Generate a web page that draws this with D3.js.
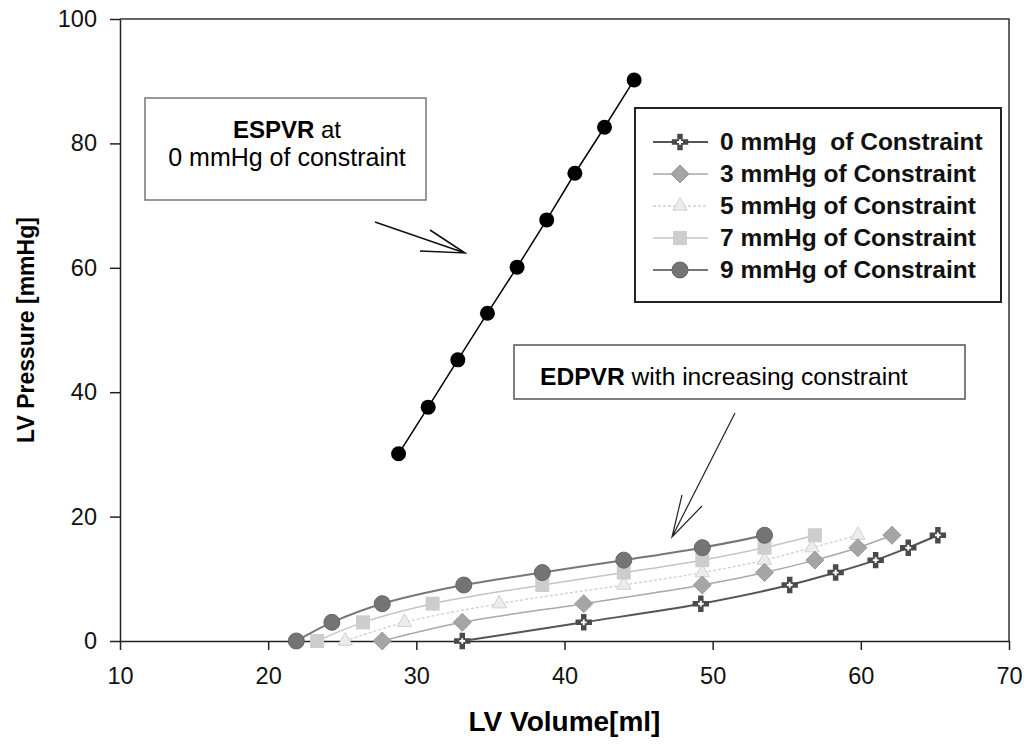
<!DOCTYPE html>
<html>
<head>
<meta charset="utf-8">
<script src="https://cdn.jsdelivr.net/npm/d3@7"></script>
<style>
  body { margin: 0; background: #fff; }
  text { font-family: 'Liberation Sans', Arial, sans-serif; white-space: pre; }
</style>
</head>
<body>
<div id="chart"></div>
<script>
// ESPVR at 0 mmHg of constraint
const espvrVolume = [28.8, 30.8, 32.8, 34.8, 36.8, 38.8, 40.7, 42.7, 44.7]
const espvrPressure = [30.1, 37.6, 45.2, 52.7, 60.1, 67.7, 75.2, 82.6, 90.2]

// EDPVR curves, one per constraint level
const constraintLabels = [
  '0 mmHg  of Constraint',
  '3 mmHg of Constraint',
  '5 mmHg of Constraint',
  '7 mmHg of Constraint',
  '9 mmHg of Constraint',
]
const edpvrPressure = [0, 3, 6, 9, 11, 13, 15, 17]
const volume0 = [33.1, 41.3, 49.2, 55.2, 58.3, 61.0, 63.2, 65.2]
const volume3 = [27.7, 33.1, 41.3, 49.3, 53.5, 56.9, 59.8, 62.1]
const volume5 = [25.2, 29.2, 35.6, 44.0, 49.3, 53.5, 56.7, 59.8]
const volume7 = [23.3, 26.4, 31.1, 38.5, 44.0, 49.3, 53.5, 56.9]
const volume9 = [21.9, 24.3, 27.7, 33.2, 38.5, 44.0, 49.3, 53.5]

const xTicks = [10, 20, 30, 40, 50, 60, 70]
const yTicks = [0, 20, 40, 60, 80, 100]

const width = 1030
const height = 751
const margin = { top: 19, right: 21, bottom: 110, left: 120 }

const svg = d3.select('#chart').append('svg')
  .attr('width', width)
  .attr('height', height)

const xScale = d3.scaleLinear().domain([10, 70]).range([margin.left, width - margin.right])
const yScale = d3.scaleLinear().domain([0, 100]).range([height - margin.bottom, margin.top])

// styles per series
const series = [
  { label: constraintLabels[0], vol: volume0, line: '#555', lw: 2, dash: null, marker: 'cross' },
  { label: constraintLabels[1], vol: volume3, line: '#a8a8a8', lw: 1.5, dash: null, marker: 'diamond' },
  { label: constraintLabels[2], vol: volume5, line: '#cfcfcf', lw: 1.3, dash: '3,2', marker: 'triangle' },
  { label: constraintLabels[3], vol: volume7, line: '#c4c4c4', lw: 1.5, dash: null, marker: 'square' },
  { label: constraintLabels[4], vol: volume9, line: '#777', lw: 2, dash: null, marker: 'circle' },
]

function drawMarker(g, type) {
  if (type === 'cross') {
    g.append('path').attr('d', d3.symbol(d3.symbolCross, 150)()).attr('fill', '#4a4a4a')
    g.append('path').attr('d', d3.symbol(d3.symbolCross, 18)()).attr('fill', '#fff')
  } else if (type === 'diamond') {
    g.append('path').attr('d', 'M0,-9L9,0L0,9L-9,0Z').attr('fill', '#a5a5a5').attr('stroke', '#999').attr('stroke-width', 1)
  } else if (type === 'triangle') {
    g.append('path').attr('d', d3.symbol(d3.symbolTriangle, 90)()).attr('fill', '#ececec').attr('stroke', '#d0d0d0').attr('stroke-width', 1)
  } else if (type === 'square') {
    g.append('rect').attr('x', -7).attr('y', -7).attr('width', 14).attr('height', 14).attr('fill', '#cdcdcd')
  } else if (type === 'circle') {
    g.append('circle').attr('r', 8).attr('fill', '#747474').attr('stroke', '#666').attr('stroke-width', 1)
  }
}

// frame top + right
svg.append('path')
  .attr('d', `M${xScale(10)},${yScale(100)}H${xScale(70)}V${yScale(0)}`)
  .attr('fill', 'none')
  .attr('stroke', '#333')
  .attr('stroke-width', 1.5)

// axes
const xAxis = svg.append('g')
  .attr('transform', `translate(0,${yScale(0)})`)
  .call(d3.axisBottom(xScale).tickValues(xTicks).tickSize(9).tickPadding(17).tickSizeOuter(0))
const yAxis = svg.append('g')
  .attr('transform', `translate(${xScale(10)},0)`)
  .call(d3.axisLeft(yScale).tickValues(yTicks).tickSize(10).tickPadding(13).tickSizeOuter(0))

;[xAxis, yAxis].forEach(ax => {
  ax.select('.domain').attr('stroke', '#222').attr('stroke-width', 1.5)
  ax.selectAll('.tick line').attr('stroke', '#222').attr('stroke-width', 1.5)
  ax.selectAll('.tick text').attr('font-size', 23.5).attr('fill', '#111')
    .attr('font-family', "'Liberation Sans', Arial, sans-serif")
})

// axis titles
svg.append('text')
  .attr('x', xScale(40))
  .attr('y', 731)
  .attr('text-anchor', 'middle')
  .attr('font-size', 28)
  .attr('font-weight', 'bold')
  .text('LV Volume[ml]')

svg.append('text')
  .attr('transform', `translate(34,${yScale(50)}) rotate(-90)`)
  .attr('text-anchor', 'middle')
  .attr('font-size', 23)
  .attr('font-weight', 'bold')
  .text('LV Pressure [mmHg]')

// EDPVR lines
const lineGen = d3.line()
  .x(d => xScale(d[0]))
  .y(d => yScale(d[1]))
  .curve(d3.curveCatmullRom.alpha(0.5))

series.forEach(s => {
  const pts = s.vol.map((v, i) => [v, edpvrPressure[i]])
  svg.append('path')
    .datum(pts)
    .attr('d', lineGen)
    .attr('fill', 'none')
    .attr('stroke', s.line)
    .attr('stroke-width', s.lw)
    .attr('stroke-dasharray', s.dash)
})

// markers, drawn from the lightest to darkest so dark ones sit on top
;[2, 3, 1, 0, 4].forEach(k => {
  const s = series[k]
  s.vol.forEach((v, i) => {
    const g = svg.append('g').attr('transform', `translate(${xScale(v)},${yScale(edpvrPressure[i])})`)
    drawMarker(g, s.marker)
  })
})

// ESPVR line + points
const espvr = espvrVolume.map((v, i) => [v, espvrPressure[i]])
svg.append('path')
  .datum(espvr)
  .attr('d', d3.line().x(d => xScale(d[0])).y(d => yScale(d[1])))
  .attr('fill', 'none')
  .attr('stroke', '#000')
  .attr('stroke-width', 1.5)
svg.selectAll('.espvr-dot')
  .data(espvr)
  .join('circle')
  .attr('class', 'espvr-dot')
  .attr('cx', d => xScale(d[0]))
  .attr('cy', d => yScale(d[1]))
  .attr('r', 7.5)
  .attr('fill', '#000')

// ESPVR annotation box
svg.append('rect')
  .attr('x', 145).attr('y', 98).attr('width', 281).attr('height', 102)
  .attr('fill', '#fff').attr('stroke', '#777').attr('stroke-width', 1.5)
const espText = svg.append('text').attr('x', 287).attr('y', 138).attr('text-anchor', 'middle').attr('font-size', 24)
espText.append('tspan').attr('font-weight', 'bold').text('ESPVR')
espText.append('tspan').text(' at')
svg.append('text').attr('x', 287).attr('y', 166).attr('text-anchor', 'middle').attr('font-size', 25)
  .text('0 mmHg of constraint')

// arrow to ESPVR
svg.append('path')
  .attr('d', 'M375,222L465,253M430,230L465,253L420,251')
  .attr('fill', 'none').attr('stroke', '#111').attr('stroke-width', 1.5)

// EDPVR annotation box
svg.append('rect')
  .attr('x', 514).attr('y', 345).attr('width', 451).attr('height', 54)
  .attr('fill', '#fff').attr('stroke', '#555').attr('stroke-width', 1.5)
const edText = svg.append('text').attr('x', 540).attr('y', 385).attr('font-size', 24.6)
edText.append('tspan').attr('font-weight', 'bold').text('EDPVR')
edText.append('tspan').text(' with increasing constraint')

// arrow to EDPVR curves
svg.append('path')
  .attr('d', 'M735,413L672,537M682,495L672,537L702,506')
  .attr('fill', 'none').attr('stroke', '#222').attr('stroke-width', 1.2)

// legend
const legend = svg.append('g')
legend.append('rect')
  .attr('x', 635).attr('y', 108).attr('width', 366).attr('height', 194)
  .attr('fill', '#fff').attr('stroke', '#222').attr('stroke-width', 2)

series.forEach((s, i) => {
  const y = 142 + i * 32
  legend.append('line')
    .attr('x1', 653).attr('x2', 708).attr('y1', y).attr('y2', y)
    .attr('stroke', s.line).attr('stroke-width', s.lw).attr('stroke-dasharray', s.dash)
  drawMarker(legend.append('g').attr('transform', `translate(680,${y})`), s.marker)
  legend.append('text')
    .attr('x', 720).attr('y', y + 8)
    .attr('font-size', 24.5)
    .attr('font-weight', 'bold')
    .attr('fill', '#111')
    .text(s.label)
})
</script>
</body>
</html>
